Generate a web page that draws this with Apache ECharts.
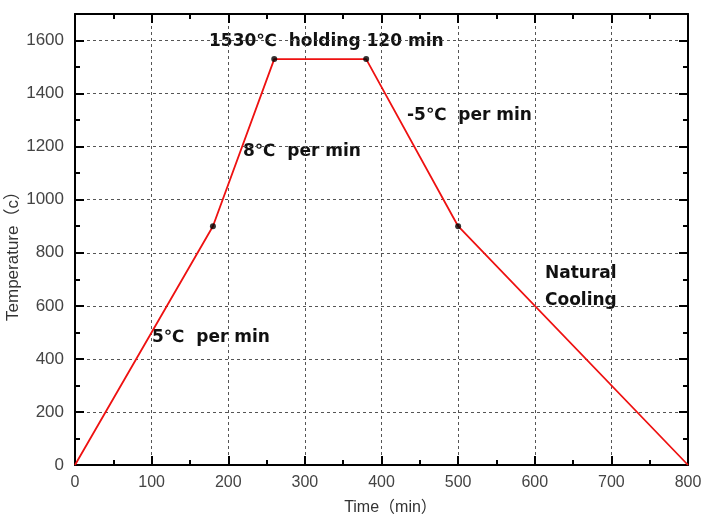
<!DOCTYPE html>
<html><head><meta charset="utf-8">
<script src="https://cdn.jsdelivr.net/npm/echarts@6/dist/echarts.min.js"></script>
<style>html,body{margin:0;padding:0;background:#fff}#c{width:718px;height:522px}</style>
</head><body><div id="c"></div>
<script>
const timeMin = [0, 180, 260, 380, 500, 800];
const tempC = [0, 900, 1530, 1530, 900, 0];
const markerTime = [180, 260, 380, 500];
const markerTemp = [900, 1530, 1530, 900];
const xTicks = [0, 100, 200, 300, 400, 500, 600, 700, 800];
const yTicks = [0, 200, 400, 600, 800, 1000, 1200, 1400, 1600];
const notes = ["1530℃  holding 120 min", "8℃  per min", "-5℃  per min", "Natural\nCooling", "5℃  per min"];
const xName = "Time（min）";
const yName = "Temperature（c）";

const chart = echarts.init(document.getElementById('c'));
const font = 'Liberation Sans, Arial, Noto Sans CJK SC, sans-serif';
const axisCommon = {
  axisLine: {show: true, onZero: false, lineStyle: {color: '#000', width: 2}},
  axisTick: {show: true, inside: true, length: 9, lineStyle: {color: '#000', width: 2}},
  minorTick: {show: true, splitNumber: 2, length: 5, lineStyle: {color: '#000', width: 2}},
};
const noteStyle = {fill: '#111', font: 'bold 17px DejaVu Sans, sans-serif'};
chart.setOption({
  animation: false,
  grid: {left: 75, right: 30, top: 14, bottom: 57, outerBoundsMode: 'none', containLabel: false},
  xAxis: [
    Object.assign({type: 'value', min: 0, max: 800, interval: 100, position: 'bottom',
      name: xName, nameLocation: 'middle', nameGap: 35,
      nameTextStyle: {color: '#333', fontSize: 16, fontFamily: font, padding: [0, 0, 0, 18]},
      axisLabel: {color: '#444', fontSize: 16, fontFamily: font, margin: 10,
        formatter: v => xTicks.includes(v) ? String(v) : ''},
      splitLine: {show: true, lineStyle: {color: '#555', type: [3, 3], width: 1}}}, axisCommon),
    Object.assign({type: 'value', min: 0, max: 800, interval: 100, position: 'top',
      axisLabel: {show: false}, splitLine: {show: false}}, axisCommon)
  ],
  yAxis: [
    Object.assign({type: 'value', min: 0, max: 1700, interval: 200, position: 'left',
      axisLabel: {color: '#444', fontSize: 17, fontFamily: font, margin: 11,
        formatter: v => yTicks.includes(v) ? String(v) : ''},
      splitLine: {show: true, lineStyle: {color: '#555', type: [3, 3], width: 1}}}, axisCommon),
    Object.assign({type: 'value', min: 0, max: 1700, interval: 200, position: 'right',
      axisLabel: {show: false}, splitLine: {show: false}}, axisCommon)
  ],
  series: [
    {type: 'line', data: timeMin.map((t, i) => [t, tempC[i]]), showSymbol: false,
      lineStyle: {color: '#ee1111', width: 1.8}, z: 3},
    {type: 'scatter', data: markerTime.map((t, i) => [t, markerTemp[i]]), symbolSize: 6,
      itemStyle: {color: '#000'}, z: 4}
  ],
  graphic: [
    {type: 'text', x: 13, y: 252, rotation: Math.PI / 2,
      style: {text: yName, fill: '#333', font: '17px Liberation Sans, Arial, Noto Sans CJK SC, sans-serif',
        align: 'center', verticalAlign: 'middle'}},
    {type: 'text', left: 209, top: 33, style: Object.assign({text: notes[0]}, noteStyle)},
    {type: 'text', left: 243, top: 143, style: Object.assign({text: notes[1]}, noteStyle)},
    {type: 'text', left: 407, top: 107, style: Object.assign({text: notes[2]}, noteStyle)},
    {type: 'text', left: 545, top: 260, style: Object.assign({text: notes[3], lineHeight: 27}, noteStyle)},
    {type: 'text', left: 152, top: 329, style: Object.assign({text: notes[4]}, noteStyle)}
  ]
});
</script></body></html>
